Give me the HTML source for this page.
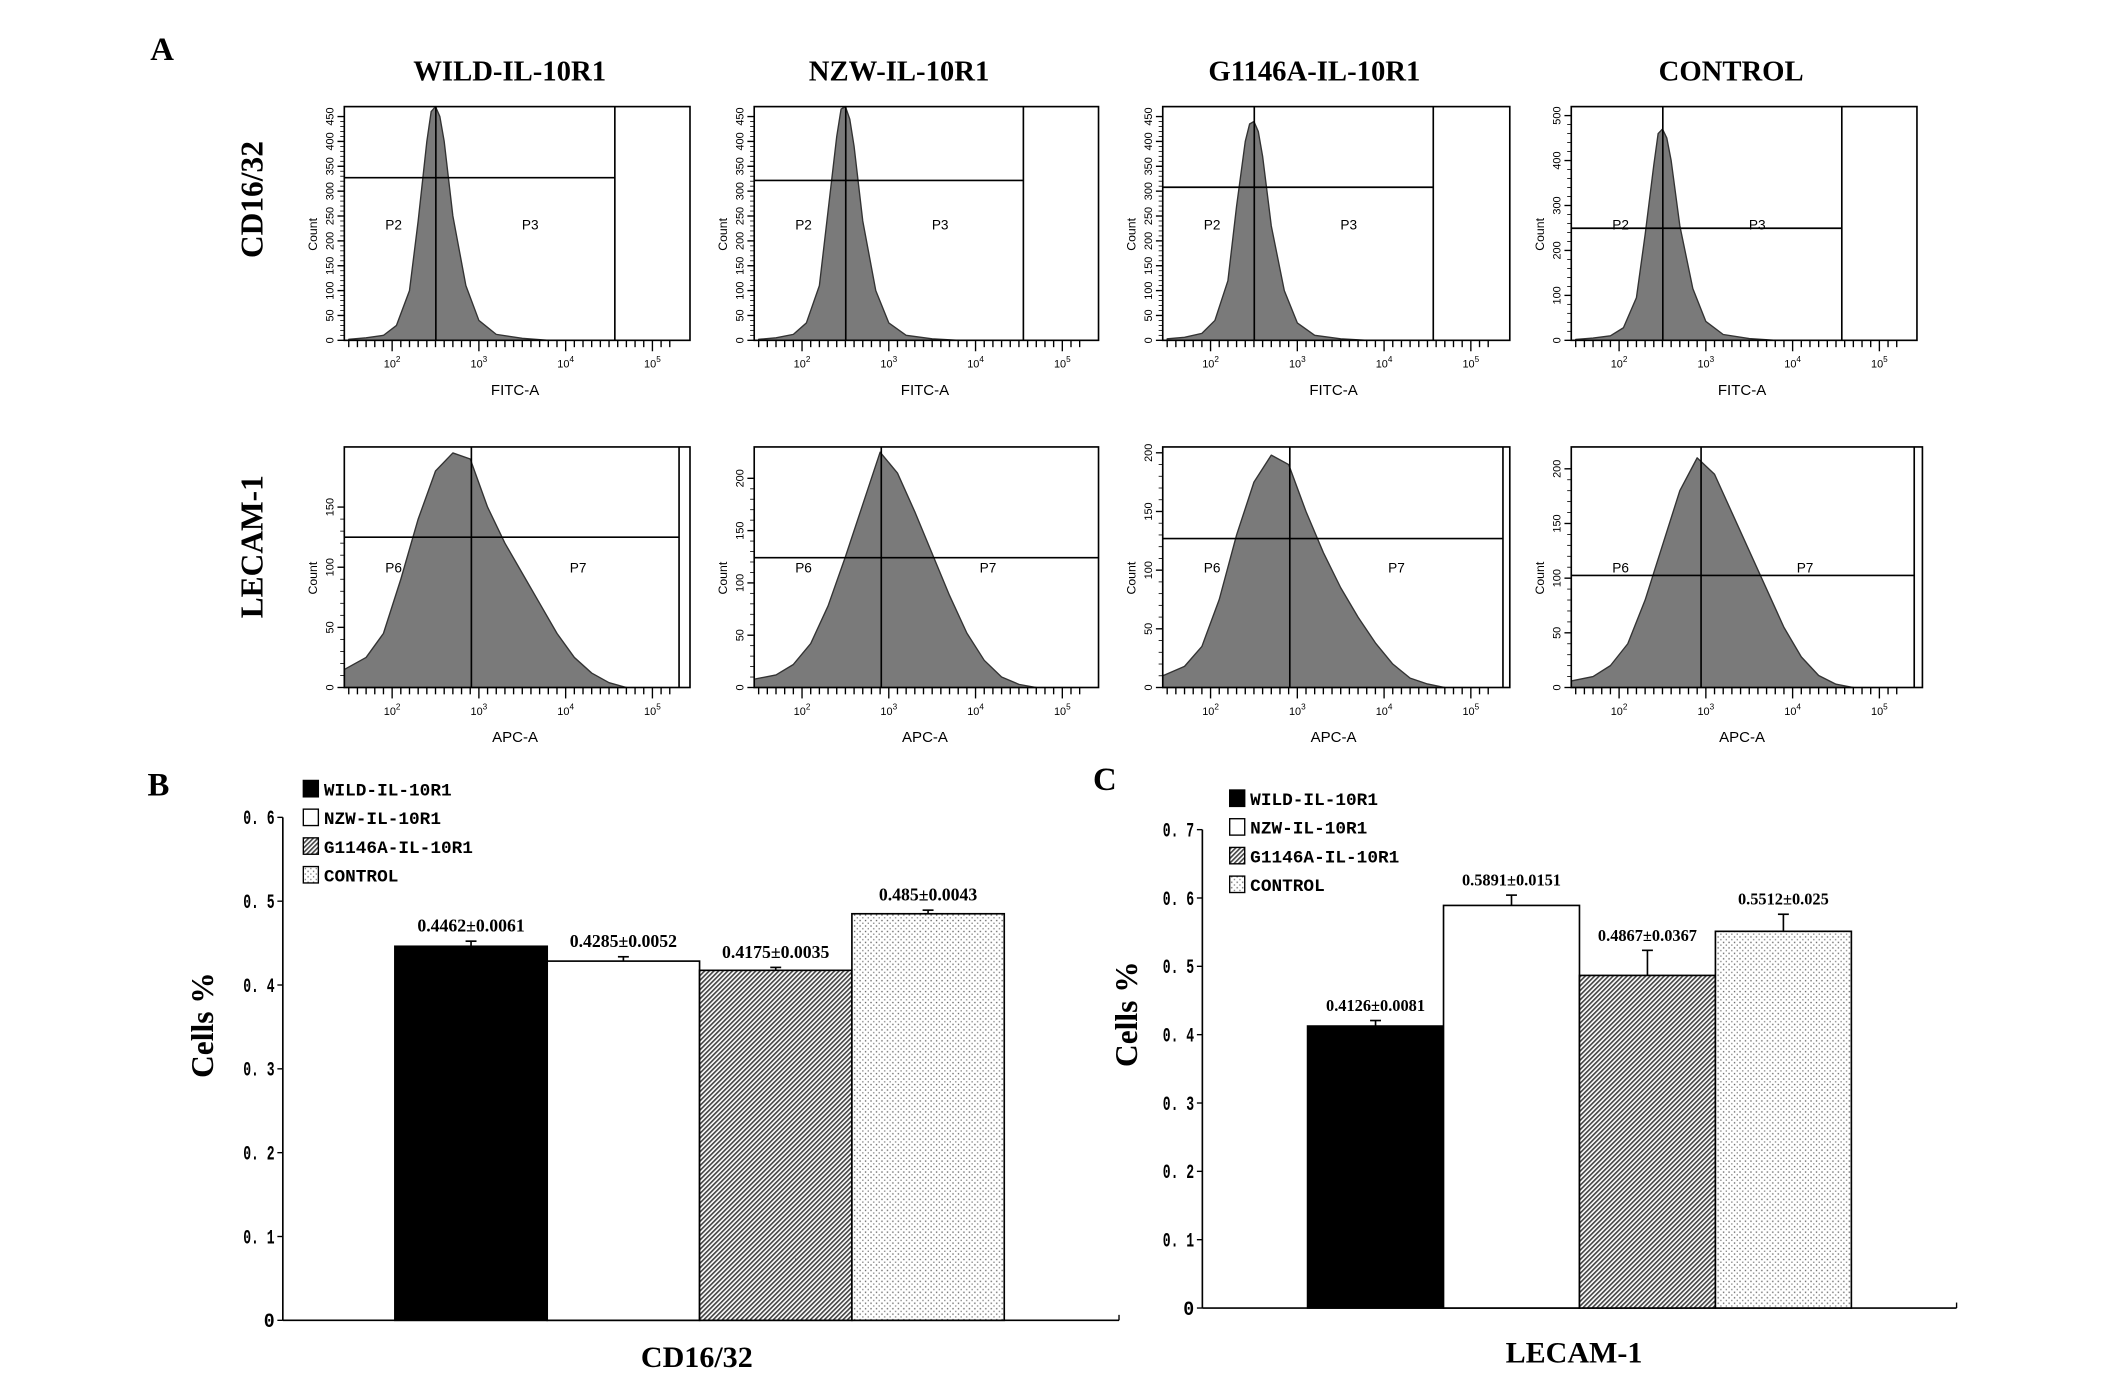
<!DOCTYPE html>
<html><head><meta charset="utf-8">
<style>
html,body{margin:0;padding:0;background:#fff;}
svg{display:block;}
.serifb{font-family:"Liberation Serif",serif;font-weight:bold;}
.mono{font-family:"Liberation Mono",monospace;font-weight:bold;}
.sans{font-family:"Liberation Sans",sans-serif;}
</style></head>
<body>
<svg id="fig" width="2126" height="1375" viewBox="0 0 1556 1006" preserveAspectRatio="none" xmlns="http://www.w3.org/2000/svg">
<defs>
<pattern id="hatch" patternUnits="userSpaceOnUse" width="2.4" height="2.4" patternTransform="rotate(45)">
<rect width="2.4" height="2.4" fill="#fff"/><rect width="1.2" height="2.4" fill="#444"/>
</pattern>
<pattern id="dots" patternUnits="userSpaceOnUse" width="4" height="4">
<rect width="4" height="4" fill="#fff"/><rect x="1" y="1" width="1" height="1" fill="#666"/><rect x="3" y="3" width="1" height="1" fill="#888"/>
</pattern>
</defs>
<g id="root"></g>
</svg>
<script>
// ---------- Panel A histogram data (log10 intensity vs count) ----------
const topLogs = [1.5,1.7,1.9,2.05,2.2,2.3,2.4,2.45,2.5,2.55,2.6,2.7,2.85,3.0,3.2,3.5,3.8];
const cdWild = [2,5,10,30,100,240,400,460,470,450,400,250,110,40,12,4,0];
const cdNzw = [2,5,12,35,110,260,410,465,470,445,390,240,100,35,10,3,0];
const cdG1146 = [3,6,14,40,120,270,400,435,440,420,370,230,100,35,10,3,0];
const cdCtrl = [2,5,10,28,95,235,390,460,470,450,400,255,115,42,13,4,0];
const botLogs = [1.45,1.7,1.9,2.1,2.3,2.5,2.7,2.9,3.1,3.3,3.5,3.7,3.9,4.1,4.3,4.5,4.7];
const leWild = [15,25,45,90,140,180,195,190,150,120,95,70,45,25,12,4,0];
const leNzw = [8,12,22,42,78,125,175,225,205,168,128,88,52,26,10,3,0];
const leG1146 = [10,18,35,75,130,175,198,190,150,115,85,60,38,20,8,3,0];
const leCtrl = [6,10,20,40,80,130,180,210,195,160,125,90,55,28,11,3,0];
const colTitles = ["WILD-IL-10R1","NZW-IL-10R1","G1146A-IL-10R1","CONTROL"];
const topYTicks = ["0","50","100","150","200","250","300","350","400","450"];
const botYTicks = ["0","50","100","150","200"];
// ---------- Bar chart data ----------
const categories = ["WILD-IL-10R1","NZW-IL-10R1","G1146A-IL-10R1","CONTROL"];
const cdValues = [0.4462,0.4285,0.4175,0.485];
const cdErrors = [0.0061,0.0052,0.0035,0.0043];
const cdLabels = ["0.4462±0.0061","0.4285±0.0052","0.4175±0.0035","0.485±0.0043"];
const leValues = [0.4126,0.5891,0.4867,0.5512];
const leErrors = [0.0081,0.0151,0.0367,0.025];
const leLabels = ["0.4126±0.0081","0.5891±0.0151","0.4867±0.0367","0.5512±0.025"];
const bTicks = [0,0.1,0.2,0.3,0.4,0.5,0.6];
const cTicks = [0,0.1,0.2,0.3,0.4,0.5,0.6,0.7];

const NS="http://www.w3.org/2000/svg";
const root=document.getElementById('root');
function el(tag,attrs,parent,text){const e=document.createElementNS(NS,tag);for(const k in attrs)e.setAttribute(k,attrs[k]);if(text!==undefined)e.textContent=text;(parent||root).appendChild(e);return e;}

let t;
t=el('text',{x:110,y:44,'font-size':24,class:'serifb'},root,'A');


t=el('text',{x:108,y:582,'font-size':24,class:'serifb'},root,'B');


t=el('text',{x:800,y:578,'font-size':24,class:'serifb'},root,'C');


const colCenters=[373,658,962,1267];
colTitles.forEach((s,i)=>{const e=el('text',{x:colCenters[i],y:59,'font-size':21,class:'serifb','text-anchor':'middle'},root,s);

});
t=el('text',{x:0,y:0,'font-size':23,class:'serifb','text-anchor':'middle',transform:'translate(192,146) rotate(-90)'},root,'CD16/32');


t=el('text',{x:0,y:0,'font-size':23,class:'serifb','text-anchor':'middle',transform:'translate(192,400) rotate(-90)'},root,'LECAM-1');



const topPanels=[
 {x:252,y:78,w:253,h:171,hy:130,hx2:450,gate:450,med:319,logs:topLogs,c:cdWild,max:470,l1:'P2',l2:'P3',xl:'FITC-A',yt:topYTicks,ymax:450},
 {x:552,y:78,w:252,h:171,hy:132,hx2:749,gate:749,med:619,logs:topLogs,c:cdNzw,max:470,l1:'P2',l2:'P3',xl:'FITC-A',yt:topYTicks,ymax:450},
 {x:851,y:78,w:254,h:171,hy:137,hx2:1049,gate:1049,med:918,logs:topLogs,c:cdG1146,max:470,l1:'P2',l2:'P3',xl:'FITC-A',yt:topYTicks,ymax:450},
 {x:1150,y:78,w:253,h:171,hy:167,hx2:1348,gate:1348,med:1217,logs:topLogs,c:cdCtrl,max:520,l1:'P2',l2:'P3',xl:'FITC-A',yt:["0","100","200","300","400","500"],ymax:500}
];
const botPanels=[
 {x:252,y:327,w:253,h:176,hy:393,hx2:497,gate:497,med:345,logs:botLogs,c:leWild,max:200,l1:'P6',l2:'P7',xl:'APC-A',yt:["0","50","100","150"],ymax:150},
 {x:552,y:327,w:252,h:176,hy:408,hx2:804,gate:null,med:645,logs:botLogs,c:leNzw,max:230,l1:'P6',l2:'P7',xl:'APC-A',yt:botYTicks,ymax:200},
 {x:851,y:327,w:254,h:176,hy:394,hx2:1100,gate:1100,med:944,logs:botLogs,c:leG1146,max:205,l1:'P6',l2:'P7',xl:'APC-A',yt:botYTicks,ymax:200},
 {x:1150,y:327,w:257,h:176,hy:421,hx2:1401,gate:1401,med:1245,logs:botLogs,c:leCtrl,max:220,l1:'P6',l2:'P7',xl:'APC-A',yt:botYTicks,ymax:200}
];
function drawHist(p,idx,row){
  const g=el('g',{});
  
  
  const xs=v=>p.x+35+(v-2)*63.5;
  const ys=c=>p.y+p.h-c/p.max*p.h;
  let pts=[[Math.max(p.x,xs(p.logs[0])),p.y+p.h]];
  p.logs.forEach((v,i)=>pts.push([Math.max(p.x,xs(v)),ys(p.c[i])]));
  pts.push([xs(p.logs[p.logs.length-1]),p.y+p.h]);
  const poly=el('polygon',{points:pts.map(q=>q.join(',')).join(' '),fill:'#7a7a7a',stroke:'#333','stroke-width':1,'stroke-linejoin':'round'},g);
  
  
  el('rect',{x:p.x,y:p.y,width:p.w,height:p.h,fill:'none',stroke:'#000','stroke-width':1.2},g);
  el('line',{x1:p.x,y1:p.hy,x2:p.hx2,y2:p.hy,stroke:'#000','stroke-width':1.2},g);
  if(p.gate)el('line',{x1:p.gate,y1:p.y,x2:p.gate,y2:p.y+p.h,stroke:'#000','stroke-width':1.2},g);
  el('line',{x1:p.med,y1:p.y,x2:p.med,y2:p.y+p.h,stroke:'#000','stroke-width':1.2},g);
  const ly=p.y+(row==='top'?90:92);
  el('text',{x:p.x+30,y:ly,'font-size':10,class:'sans'},g,p.l1);
  el('text',{x:p.x+(row==='top'?130:165),y:ly,'font-size':10,class:'sans'},g,p.l2);
  for(let d=1.5;d<=5.2;d+=0.1){const x=xs(d);if(x<p.x||x>p.x+p.w)continue;
    const major=Math.abs(d-Math.round(d))<0.01;
    el('line',{x1:x,y1:p.y+p.h,x2:x,y2:p.y+p.h+(major?8:5),stroke:'#000','stroke-width':1},g);}
  [2,3,4,5].forEach(d=>{const tx=el('text',{x:xs(d),y:p.y+p.h+20,'font-size':8,class:'sans','text-anchor':'middle'},g,'10');
    el('tspan',{dy:-4,'font-size':6},tx,String(d));});
  el('text',{x:p.x+125,y:p.y+p.h+40,'font-size':11,class:'sans','text-anchor':'middle'},g,p.xl);
  el('text',{x:0,y:0,'font-size':9,class:'sans','text-anchor':'middle',transform:`translate(${p.x-20},${p.y+p.h/2+8}) rotate(-90)`},g,'Count');
  p.yt.forEach((s,i)=>{const v=i*p.ymax/(p.yt.length-1);const y=p.y+p.h-v/p.max*p.h;
    el('line',{x1:p.x-5,y1:y,x2:p.x,y2:y,stroke:'#000'},g);
    el('text',{x:0,y:0,'font-size':8,class:'sans','text-anchor':'middle',transform:`translate(${p.x-8},${y}) rotate(-90)`},g,s);});
  for(let v=0;v<=p.ymax;v+=p.ymax/((p.yt.length-1)*5)){const y=p.y+p.h-v/p.max*p.h;el('line',{x1:p.x-3,y1:y,x2:p.x,y2:y,stroke:'#000','stroke-width':0.6},g);}
}
topPanels.forEach((p,i)=>drawHist(p,i,'top'));
botPanels.forEach((p,i)=>drawHist(p,i,'bottom'));

const fills=['#000','#fff','url(#hatch)','url(#dots)'];
function barChart(o){
  const g=el('g',{});
  
  
  const ys=v=>o.y0-(v/o.ymax)*(o.y0-o.ytop);
  el('line',{x1:o.ax,y1:ys(o.ymax),x2:o.ax,y2:o.y0,stroke:'#000','stroke-width':1.2},g);
  el('line',{x1:o.ax,y1:o.y0,x2:o.xend,y2:o.y0,stroke:'#000','stroke-width':1.2},g);
  el('line',{x1:o.xend,y1:o.y0,x2:o.xend,y2:o.y0-4,stroke:'#000'},g);
  o.ticks.forEach(v=>{const y=ys(v);el('line',{x1:o.ax-4,y1:y,x2:o.ax,y2:y,stroke:'#000'},g);
    const s=v===0?'0':v.toFixed(1).replace('.','. ');
    const attrs={x:o.ax-6,y:y+5,'font-size':15,class:'mono','text-anchor':'end'};
    if(v!==0){attrs.textLength=23;attrs.lengthAdjust='spacingAndGlyphs';}
    else{attrs.textLength=8;attrs.lengthAdjust='spacingAndGlyphs';}
    const tx=el('text',attrs,g,s);
    
    });
  const bw=o.bw;
  o.values.forEach((v,i)=>{const x=o.bx+i*bw;
    el('line',{x1:x+bw/2,y1:ys(v),x2:x+bw/2,y2:ys(v+o.errors[i]),stroke:'#000','stroke-width':1.2},g);
    el('line',{x1:x+bw/2-4,y1:ys(v+o.errors[i]),x2:x+bw/2+4,y2:ys(v+o.errors[i]),stroke:'#000','stroke-width':1.2},g);
    const r=el('rect',{x:x,y:ys(v),width:bw,height:o.y0-ys(v),fill:fills[i],stroke:'#000','stroke-width':1.2},g);
    
    
    const lt=el('text',{x:x+bw/2,y:ys(v+o.errors[i])-7,'font-size':o.lfs,class:'serifb','text-anchor':'middle'},g,o.labels[i]);
    
    });
  const yt=el('text',{x:0,y:0,'font-size':23,class:'serifb','text-anchor':'middle',transform:`translate(${o.ytx},${o.yty}) rotate(-90)`},g,'Cells %');
  
  
  const xt=el('text',{x:o.xtx,y:o.xty,'font-size':22,class:'serifb','text-anchor':'middle'},g,o.xtitle);
  
  
  categories.forEach((c,i)=>{const y=o.ly+i*21;
    const lg=el('g',{},g);
    
    
    el('rect',{x:o.lx,y:y-11,width:11,height:12,fill:fills[i],stroke:'#000','stroke-width':1},lg);
    el('text',{x:o.lx+15,y:y,'font-size':13,class:'mono'},lg,c);});
}
barChart({name:'bar-chart-cd16-32',ax:207,y0:966,ytop:598,ymax:0.6,xend:819,bx:289,bw:111.5,values:cdValues,errors:cdErrors,labels:cdLabels,ticks:bTicks,lfs:13,ytx:156,yty:750,xtx:510,xty:1000,xtitle:'CD16/32',lx:222,ly:582});
barChart({name:'bar-chart-lecam-1',ax:880,y0:957,ytop:607,ymax:0.7,xend:1432,bx:957,bw:99.5,values:leValues,errors:leErrors,labels:leLabels,ticks:cTicks,lfs:12,ytx:832,yty:742,xtx:1152,xty:997,xtitle:'LECAM-1',lx:900,ly:589});
</script>
</body></html>
